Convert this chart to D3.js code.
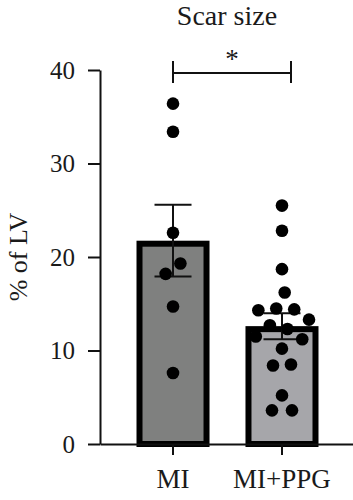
<!DOCTYPE html>
<html>
<head>
<meta charset="utf-8">
<script src="https://cdn.jsdelivr.net/npm/d3@7"></script>
<style>
  html, body { margin: 0; padding: 0; background: #fff; }
  svg { display: block; font-family: "Liberation Serif", "DejaVu Serif", serif; }
  svg text { font-family: "Liberation Serif", "DejaVu Serif", serif !important; }
</style>
</head>
<body>
<svg id="chart" width="353" height="500"></svg>
<script>
(() => {
  'use strict';

  // data
  const categories = ["MI", "MI+PPG"];
  const miValues = [36.4, 33.4, 22.6, 19.3, 18.2, 14.7, 7.6];
  const ppgValues = [25.5, 22.8, 18.7, 16.2, 14.5, 14.4, 14.3, 13.3, 12.7, 12.3, 11.5, 11.2, 10.2, 8.5, 8.4, 5.2, 3.6, 3.6];
  const barColors = ["#7f807f", "#a6a6aa"];
  const yTicks = [0, 10, 20, 30, 40];
  const title = "Scar size";
  const yLabel = "% of LV";
  const sigLabel = "*";

  let groups = categories.map((c, i) => {
    let vals = i === 0 ? miValues : ppgValues;
    let mean = d3.mean(vals);
    let sem = d3.deviation(vals) / Math.sqrt(vals.length);
    return {name: c, values: vals, mean: mean, sem: sem, color: barColors[i]};
  });

  let svg = d3.select("#chart");

  let x = d3.scaleBand()
    .domain(categories)
    .range([100, 355])
    .paddingInner(0.33)
    .paddingOuter(0.335);

  let y = d3.scaleLinear()
    .domain([0, 40])
    .range([444, 70]);

  let stroke = 6;

  // bars (border drawn inside the bar outline)
  svg.append("g").selectAll("rect")
    .data(groups)
    .join("rect")
    .attr("x", d => x(d.name) + stroke / 2)
    .attr("y", d => y(d.mean) + stroke / 2)
    .attr("width", x.bandwidth() - stroke)
    .attr("height", d => y(0) - y(d.mean) - stroke / 2)
    .attr("fill", d => d.color)
    .attr("stroke", "#000")
    .attr("stroke-width", stroke);

  // error bars (mean ± SEM)
  let cap = 18.5;
  let eb = svg.append("g").attr("stroke", "#111").attr("stroke-width", 2);
  groups.forEach(d => {
    let cx = x(d.name) + x.bandwidth() / 2;
    eb.append("line")
      .attr("x1", cx).attr("x2", cx)
      .attr("y1", y(d.mean + d.sem)).attr("y2", y(d.mean - d.sem));
    [d.mean + d.sem, d.mean - d.sem].forEach(v => {
      eb.append("line")
        .attr("x1", cx - cap).attr("x2", cx + cap)
        .attr("y1", y(v)).attr("y2", y(v));
    });
  });

  // scatter points, spread with a small force layout
  let r = 6.3;
  let nodes = [];
  groups.forEach(d => {
    let cx = x(d.name) + x.bandwidth() / 2;
    d.values.forEach((v, i) => {
      nodes.push({cx: cx, fy: y(v), y: y(v), x: cx + (i % 2 ? 1 : -1) * (0.5 + i * 0.3)});
    });
  });

  let sim = d3.forceSimulation(nodes)
    .force("x", d3.forceX(d => d.cx).strength(0.07))
    .force("collide", d3.forceCollide(9).iterations(4))
    .stop();
  for (let i = 0; i < 400; i++) sim.tick();

  svg.append("g").selectAll("circle")
    .data(nodes)
    .join("circle")
    .attr("cx", d => d.x)
    .attr("cy", d => d.fy)
    .attr("r", r)
    .attr("fill", "#000");

  // axes
  let yAxis = svg.append("g")
    .attr("transform", "translate(100,0)")
    .call(d3.axisLeft(y).tickValues(yTicks).tickSize(12).tickSizeOuter(0).tickPadding(13));

  let xAxis = svg.append("g")
    .attr("transform", `translate(0,${y(0)})`)
    .call(d3.axisBottom(x).tickSize(11).tickSizeOuter(0).tickPadding(14));

  [yAxis, xAxis].forEach(a => {
    a.attr("font-family", null);
    a.select(".domain").attr("stroke", "#111").attr("stroke-width", 2);
    a.selectAll(".tick line").attr("stroke", "#111").attr("stroke-width", 2);
    a.selectAll(".tick text").attr("fill", "#1a1a1a");
  });
  yAxis.attr("font-size", 25);
  xAxis.attr("font-size", 27);

  // y label
  svg.append("text")
    .attr("transform", `translate(27,${y(20)}) rotate(-90)`)
    .attr("text-anchor", "middle")
    .attr("font-size", 26)
    .attr("fill", "#1a1a1a")
    .text(yLabel);

  // title
  svg.append("text")
    .attr("x", 227)
    .attr("y", 25)
    .attr("text-anchor", "middle")
    .attr("font-size", 28)
    .attr("fill", "#1a1a1a")
    .text(title);

  // significance bracket
  let bx1 = x(categories[0]) + x.bandwidth() / 2;
  let bx2 = x(categories[1]) + x.bandwidth() / 2 + 9;
  let bk = svg.append("g").attr("stroke", "#111").attr("stroke-width", 2);
  bk.append("line").attr("x1", bx1).attr("x2", bx2).attr("y1", 73).attr("y2", 73);
  bk.append("line").attr("x1", bx1).attr("x2", bx1).attr("y1", 61).attr("y2", 83);
  bk.append("line").attr("x1", bx2).attr("x2", bx2).attr("y1", 61).attr("y2", 83);

  svg.append("text")
    .attr("x", (bx1 + bx2) / 2)
    .attr("y", 68)
    .attr("text-anchor", "middle")
    .attr("font-size", 27)
    .attr("fill", "#1a1a1a")
    .text(sigLabel);
})();
</script>
</body>
</html>
